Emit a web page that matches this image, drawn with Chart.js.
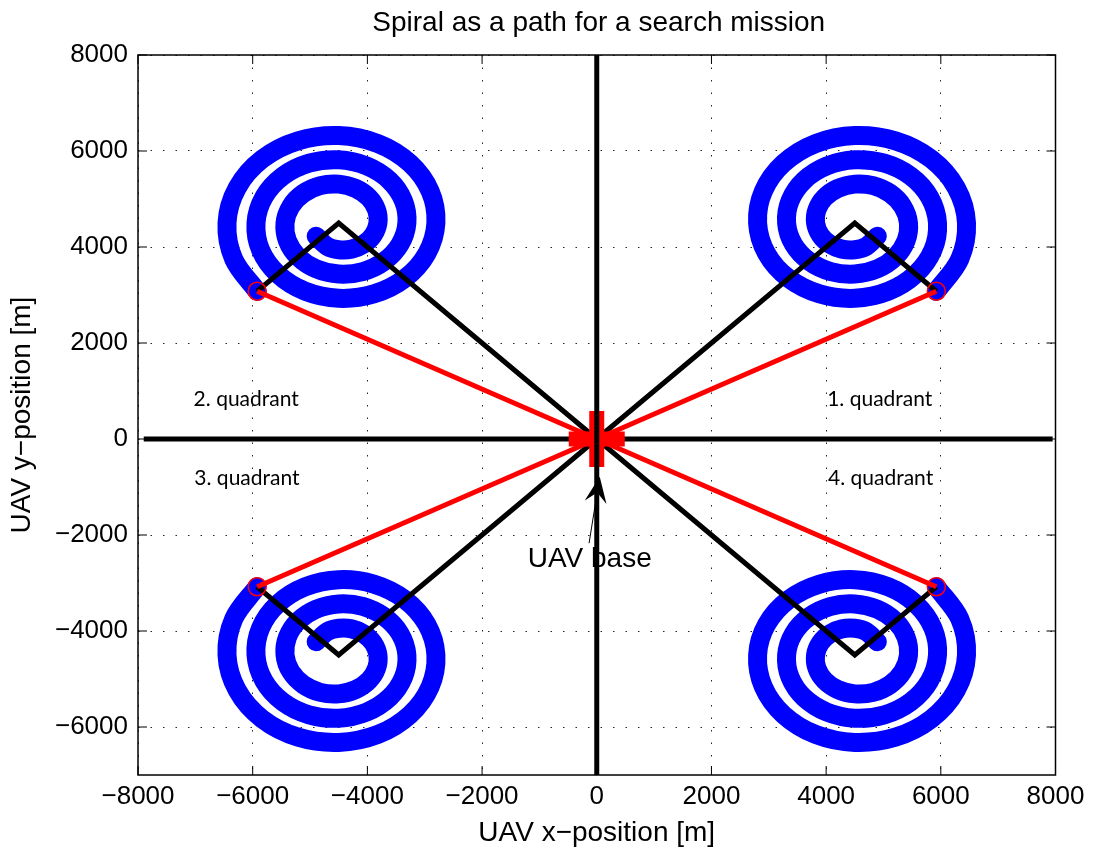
<!DOCTYPE html>
<html>
<head>
<meta charset="utf-8">
<title>Spiral as a path for a search mission</title>
<script src="https://cdn.jsdelivr.net/npm/chart.js@4/dist/chart.umd.min.js"></script>
<style>
  html, body { margin: 0; padding: 0; background: #fff; }
  #wrap { width: 1093px; height: 855px; position: relative; }
</style>
</head>
<body>
<div id="wrap"><canvas id="spiralChart"></canvas></div>
<script>
// tick values
const xTicks = [-8000, -6000, -4000, -2000, 0, 2000, 4000, 6000, 8000];
const yTicks = [-6000, -4000, -2000, 0, 2000, 4000, 6000, 8000];

const spiralDx = [393, 201, 0, -225, -439, -602, -684, -661, -528, -298, 0, 322, 617, 836, 936, 894, 707,
                  395, 0, -419, -796, -1070, -1189, -1128, -886, -491, 0, 516, 975, 1303, 1442, 1362, 1064,
                  588, 0, -612, -1154, -1537, -1695, -1595, -1243, -685, 0, 709, 1333, 1770, 1948, 1829, 1422];
const spiralDy = [-275, -486, -557, -544, -439, -250, 0, 274, 528, 719, 810, 778, 617, 346, 0, -370, -707,
                  -953, -1063, -1011, -796, -443, 0, 467, 886, 1186, 1316, 1245, 975, 540, 0, -564, -1064,
                  -1420, -1569, -1478, -1154, -637, 0, 661, 1243, 1654, 1821, 1712, 1333, 733, 0, -757, -1422];
const spiralCenter = [4500, 4500];
const spiralEnd = [5922, 3078];

// sign of x / y for the four quadrants
const quadrantSigns = [[1, 1], [-1, 1], [-1, -1], [1, -1]];
const quadrantNames = ['1. quadrant', '2. quadrant', '3. quadrant', '4. quadrant'];
const quadrantLabelX = [4935, -6113, -6100, 4950];
const quadrantLabelY = [833, 833, -812, -812];

// base marker and its annotation
const baseLabel = 'UAV base';
const baseLabelPos = [-122, -2500];
const arrowTail = [-134, -2170];
const arrowTip = [52, -785];

// thick axis lines through the origin
const axisLineX = [-7900, 7950];
const axisLineY = [-7000, 8000];

const helv = "'Liberation Sans', Arial, sans-serif";
Chart.defaults.font.family = helv;
Chart.defaults.color = '#000';

function fmt(v) {
    return v < 0 ? '\u2212' + Math.abs(v) : String(v);
}

// build the datasets (first one in the list is drawn on top)
const redSets = [], blackSets = [], spiralSets = [];
quadrantSigns.forEach(([sx, sy]) => {
    spiralSets.push({
        data: spiralDx.map((dx, i) => ({ x: sx * (spiralCenter[0] + dx), y: sy * (spiralCenter[1] + spiralDy[i]) })),
        borderColor: '#0000ff', borderWidth: 19, tension: 0.34,
        borderCapStyle: 'round', borderJoinStyle: 'round', pointRadius: 0
    });
    blackSets.push({
        data: [{ x: 0, y: 0 }, { x: sx * spiralCenter[0], y: sy * spiralCenter[1] }, { x: sx * spiralEnd[0], y: sy * spiralEnd[1] }],
        borderColor: '#000', borderWidth: 5, pointRadius: 0
    });
    redSets.push({
        data: [{ x: 0, y: 0 }, { x: sx * spiralEnd[0], y: sy * spiralEnd[1] }],
        borderColor: '#ff0000', borderWidth: 5,
        pointRadius: [0, 9], pointBorderWidth: 1.5, pointBorderColor: '#ff0000', pointBackgroundColor: 'rgba(0,0,0,0)'
    });
});

const datasets = [
    { data: [{ x: 0, y: axisLineY[0] }, { x: 0, y: axisLineY[1] }], borderColor: '#000', borderWidth: 5, pointRadius: 0 },
    { data: [{ x: 0, y: 0 }], showLine: false, pointStyle: 'cross', pointRadius: 28, pointBorderWidth: 15, pointBorderColor: '#ff0000' },
    ...redSets,
    ...blackSets,
    ...spiralSets,
    { data: [{ x: axisLineX[0], y: 0 }, { x: axisLineX[1], y: 0 }], borderColor: '#000', borderWidth: 5, pointRadius: 0 }
];
datasets.forEach(d => { if (d.showLine === undefined) d.showLine = true; d.pointHoverRadius = 0; });

const decorPlugin = {
    id: 'decor',
    beforeDatasetsDraw(chart) {
        const { ctx, scales: { x, y } } = chart;
        ctx.save();
        ctx.fillStyle = '#000';
        ctx.textAlign = 'center';
        ctx.textBaseline = 'middle';
        ctx.font = "21px Lato, 'Open Sans', sans-serif";
        quadrantNames.forEach((t, i) => {
            ctx.fillText(t, x.getPixelForValue(quadrantLabelX[i]), y.getPixelForValue(quadrantLabelY[i]));
        });
        ctx.font = '28px ' + helv;
        ctx.fillText(baseLabel, x.getPixelForValue(baseLabelPos[0]), y.getPixelForValue(baseLabelPos[1]));
        ctx.restore();
    },
    afterDraw(chart) {
        const { ctx, chartArea: a, scales: { x, y } } = chart;
        ctx.save();
        // box and inner tick marks
        ctx.strokeStyle = '#000';
        ctx.lineWidth = 1.5;
        ctx.strokeRect(a.left, a.top, a.right - a.left, a.bottom - a.top);
        ctx.lineWidth = 1;
        ctx.beginPath();
        xTicks.forEach(v => {
            const px = x.getPixelForValue(v);
            ctx.moveTo(px, a.bottom); ctx.lineTo(px, a.bottom - 9);
            ctx.moveTo(px, a.top); ctx.lineTo(px, a.top + 9);
        });
        yTicks.forEach(v => {
            const py = y.getPixelForValue(v);
            ctx.moveTo(a.left, py); ctx.lineTo(a.left + 9, py);
            ctx.moveTo(a.right, py); ctx.lineTo(a.right - 9, py);
        });
        ctx.stroke();

        // arrow pointing at the base
        const x0 = x.getPixelForValue(arrowTail[0]), y0 = y.getPixelForValue(arrowTail[1]);
        const x1 = x.getPixelForValue(arrowTip[0]), y1 = y.getPixelForValue(arrowTip[1]);
        const ang = Math.atan2(y1 - y0, x1 - x0);
        const len = 26, half = 11, notch = 16;
        const bx = x1 - len * Math.cos(ang), by = y1 - len * Math.sin(ang);
        const nx = x1 - notch * Math.cos(ang), ny = y1 - notch * Math.sin(ang);
        ctx.beginPath();
        ctx.moveTo(x0, y0); ctx.lineTo(nx, ny);
        ctx.stroke();
        ctx.fillStyle = '#000';
        ctx.beginPath();
        ctx.moveTo(x1, y1);
        ctx.lineTo(bx - half * Math.sin(ang), by + half * Math.cos(ang));
        ctx.lineTo(nx, ny);
        ctx.lineTo(bx + half * Math.sin(ang), by - half * Math.cos(ang));
        ctx.closePath();
        ctx.fill();

        // title
        ctx.font = '28px ' + helv;
        ctx.textAlign = 'center';
        ctx.textBaseline = 'middle';
        ctx.fillText('Spiral as a path for a search mission', (a.left + a.right) / 2 + 2, 23);
        ctx.restore();
    }
};

const gridOpts = { color: 'rgba(0,0,0,0.85)', lineWidth: 1, drawTicks: false };

new Chart(document.getElementById('spiralChart'), {
    type: 'scatter',
    data: { datasets: datasets },
    options: {
        responsive: true,
        maintainAspectRatio: false,
        animation: false,
        events: [],
        layout: { autoPadding: false, padding: { top: 55, right: 37.5, left: 0, bottom: 0 } },
        plugins: { legend: { display: false }, tooltip: { enabled: false } },
        scales: {
            x: {
                type: 'linear', min: -8000, max: 8000,
                afterBuildTicks: s => { s.ticks = xTicks.map(v => ({ value: v })); },
                afterFit: s => { s.height = 80; s.paddingLeft = 0; s.paddingRight = 0; },
                ticks: { callback: fmt, font: { size: 26 }, padding: 6, maxRotation: 0 },
                grid: gridOpts,
                border: { display: false, dash: [1.5, 11] },
                title: { display: true, text: 'UAV x\u2212position [m]', font: { size: 28 }, padding: { top: 0, bottom: 5 } }
            },
            y: {
                type: 'linear', min: -7000, max: 8000,
                afterBuildTicks: s => { s.ticks = yTicks.map(v => ({ value: v })); },
                afterFit: s => { s.width = 138; s.paddingTop = 0; s.paddingBottom = 0; },
                ticks: { callback: fmt, font: { size: 26 }, padding: 10 },
                grid: gridOpts,
                border: { display: false, dash: [1.5, 11] },
                title: { display: true, text: 'UAV y\u2212position [m]', font: { size: 28 }, padding: { top: 5, bottom: 0 } }
            }
        }
    },
    plugins: [decorPlugin]
});
</script>
</body>
</html>
